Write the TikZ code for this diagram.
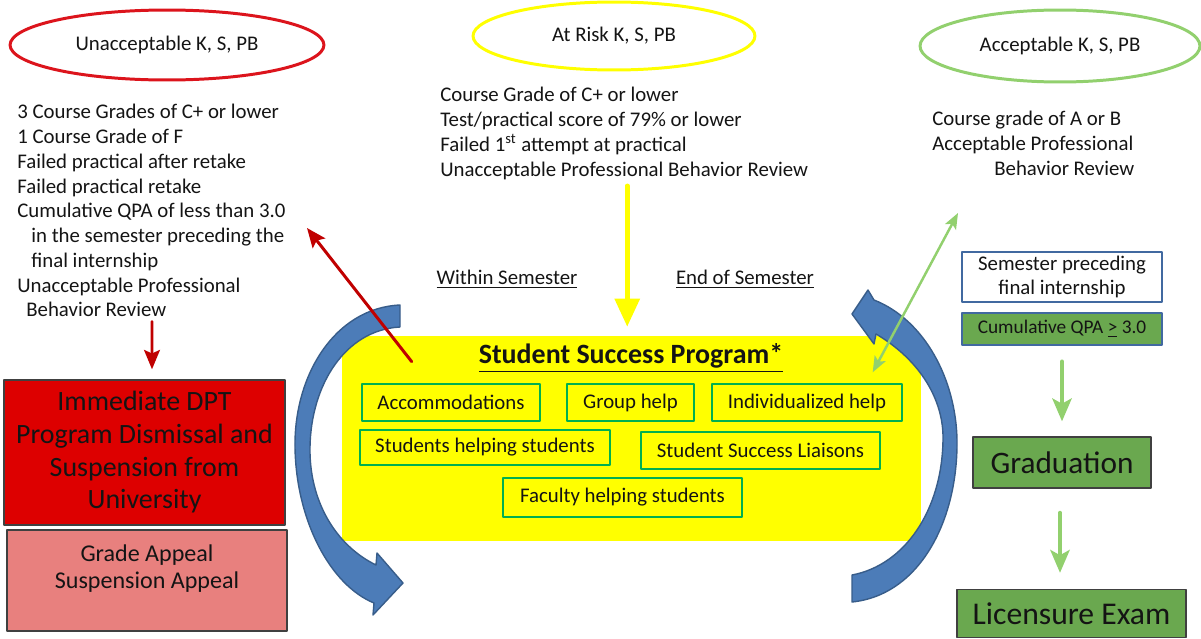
\documentclass[tikz,border=0pt]{standalone}
\usepackage{fontspec}
\setmainfont{Carlito}
\usetikzlibrary{shapes.geometric,arrows.meta,calc}
\definecolor{ssred}{RGB}{220,20,28}
\definecolor{ssdarkred}{RGB}{192,0,0}
\definecolor{ssyellow}{RGB}{255,255,0}
\definecolor{sslime}{RGB}{146,208,110}
\definecolor{ssolive}{RGB}{106,168,79}
\definecolor{ssbox}{RGB}{0,176,80}
\definecolor{ssfire}{RGB}{221,0,0}
\definecolor{sspink}{RGB}{232,128,126}
\definecolor{ssblue}{RGB}{76,124,184}
\definecolor{ssnavy}{RGB}{56,93,138}
\definecolor{ssframe}{RGB}{65,105,160}
\definecolor{ssink}{RGB}{20,20,20}
\begin{document}
\begin{tikzpicture}[x=0.02cm, y=-0.02cm, line join=round, line cap=round, >=stealth]
	\tikzset{every node/.style={text=ssink, font=\fontsize{11.85}{14.1}\selectfont},
		oval/.style={ellipse, line width=1.7pt, inner sep=0pt},
		list/.style={anchor=north west, align=left, inner sep=0pt},
		helpbox/.style={draw=ssbox, line width=0.8pt, fill=ssyellow, inner sep=0pt, minimum height=0.74cm},
		bigbox/.style={draw=black!75, line width=0.8pt, inner sep=0pt, align=center},
		framebox/.style={draw=ssframe, line width=1.6pt, inner sep=0pt, minimum width=4cm, align=center},
		redarr/.style={draw=ssdarkred, line width=1.7pt, -{Stealth[length=11pt,width=9pt,inset=2pt]}},
		limearr/.style={draw=sslime, line width=2.2pt, -{Stealth[length=13pt,width=11pt,inset=3pt]}},
		bluearc/.style={fill=ssblue, draw=ssnavy, line width=0.8pt}}
	\useasboundingbox (0,0) rectangle (1201,639);
	% ovals
	\node[oval, draw=ssred, minimum width=6.28cm, minimum height=1.4cm] (unacc) at (167,45) {Unacceptable K, S, PB};
	\node[oval, draw=ssyellow, minimum width=5.64cm, minimum height=1.36cm] (atrisk) at (614,36) {At Risk K, S, PB};
	\node[oval, draw=sslime, minimum width=5.6cm, minimum height=1.44cm] (accept) at (1060,46) {Acceptable K, S, PB};
	% criteria
	\node[list] (unacclist) at (17,104) {3 Course Grades of C+ or lower\\1 Course Grade of F\\Failed practical after retake\\Failed practical retake\\Cumulative QPA of less than 3.0\\\hspace*{0.28cm}in the semester preceding the\\\hspace*{0.28cm}final internship\\Unacceptable Professional\\\hspace*{0.18cm}Behavior Review};
	\node[list] (atlist) at (440,87) {Course Grade of C+ or lower\\Test/practical score of 79\% or lower\\Failed 1\textsuperscript{st} attempt at practical\\Unacceptable Professional Behavior Review};
	\node[list] (acclist) at (932,111) {Course grade of A or B\\Acceptable Professional\\\hspace*{1.24cm}Behavior Review};
	\node (within) at (507,279) {\underline{Within Semester}};
	\node (endsem) at (745,279) {\underline{End of Semester}};
	% program
	\node[fill=ssyellow, minimum width=11.58cm, minimum height=4.1cm, inner sep=0pt] (ssp) at (631.5,438.5) {};
	\node[font=\fontsize{15.9}{18}\selectfont\bfseries] (ssptitle) at (631,358) {\underline{Student Success Program*}};
	\node[helpbox, minimum width=3.56cm] (accom) at (451,402.5) {Accommodations};
	\node[helpbox, minimum width=2.54cm] (group) at (630.5,402.5) {Group help};
	\node[helpbox, minimum width=3.8cm] (indiv) at (807,402.5) {Individualized help};
	\node[helpbox, minimum width=5cm, minimum height=0.7cm] (peers) at (485,447.5) {Students helping students};
	\node[helpbox, minimum width=4.78cm] (liaison) at (760.5,450.5) {Student Success Liaisons};
	\node[helpbox, minimum width=4.78cm, minimum height=0.78cm] (faculty) at (622.5,497.5) {Faculty helping students};
	% outcomes
	\node[bigbox, fill=ssfire, minimum width=5.62cm, minimum height=2.9cm, font=\fontsize{15.9}{18.6}\selectfont] (dismiss) at (144.5,452.5) {Immediate DPT\\Program Dismissal and\\Suspension from\\University};
	\node[bigbox, fill=sspink, minimum width=5.6cm, minimum height=2.02cm, font=\fontsize{13.7}{15.8}\selectfont] (appeal) at (147,580.5) {Grade Appeal\\Suspension Appeal\\\mbox{}};
	\node[framebox, fill=white, minimum height=1cm] (prevsem) at (1062,277) {Semester preceding\\final internship};
	\node[framebox, fill=ssolive, minimum height=0.64cm, font=\fontsize{11}{13}\selectfont] (qpa) at (1062,329) {Cumulative QPA \underline{>} 3.0};
	\node[bigbox, fill=ssolive, minimum width=3.56cm, minimum height=1.02cm, font=\fontsize{17.8}{21}\selectfont] (grad) at (1062,462.5) {Graduation};
	\node[bigbox, fill=ssolive, minimum width=4.58cm, minimum height=0.96cm, font=\fontsize{18}{21}\selectfont] (exam) at (1071.5,613.5) {Licensure Exam};
	% cycle arrows
	\path[bluearc] (400,305) .. controls (335,308) and (294,375) .. (295,447) .. controls (296,520) and (330,585) .. (374,603) -- (373,615) -- (403,583) -- (377,553) -- (376,565) .. controls (335,545) and (309,500) .. (310,447) .. controls (311,385) and (345,330) .. (400,327) -- cycle;
	\path[bluearc] (874,300) -- (868,290) -- (852,314) -- (874,344) -- (876,334) .. controls (920,360) and (944,400) .. (943,440) .. controls (942,510) and (905,565) .. (852,575) -- (852,602) .. controls (920,595) and (958,520) .. (957,440) .. controls (956,380) and (925,320) .. (874,300) -- cycle;
	% connectors
	\coordinate (redtip) at (307,228);
	\coordinate (limetip) at (958,213);
	\path (atlist.south) ++(3,6) coordinate (ystart);
	\path (ystart |- ssp.north) ++(0,-9) coordinate (yend);
	\draw[redarr] ($(ssp.north west)+(70,26)$) -- (redtip);
	\draw[redarr] ($(unacclist.south west)+(135,4)$) -- ($(dismiss.north)+(7.5,-10)$);
	\draw[draw=ssyellow, line width=2.6pt, -{Triangle[length=16pt,width=14pt]}] (ystart) -- (yend);
	\draw[draw=sslime, line width=1.4pt, {Stealth[length=9pt,width=7pt,inset=2pt]}-{Stealth[length=9pt,width=7pt,inset=2pt]}] ($(indiv.north east)+(-30,-11)$) -- (limetip);
	\draw[limearr, shorten <=0.3cm, shorten >=0.3cm] (qpa.south) -- (grad.north);
	\draw[limearr, shorten <=0.48cm, shorten >=0.32cm] ([xshift=-0.04cm]grad.south) -- ([xshift=-0.04cm]grad.south |- exam.north);
\end{tikzpicture}
\end{document}
